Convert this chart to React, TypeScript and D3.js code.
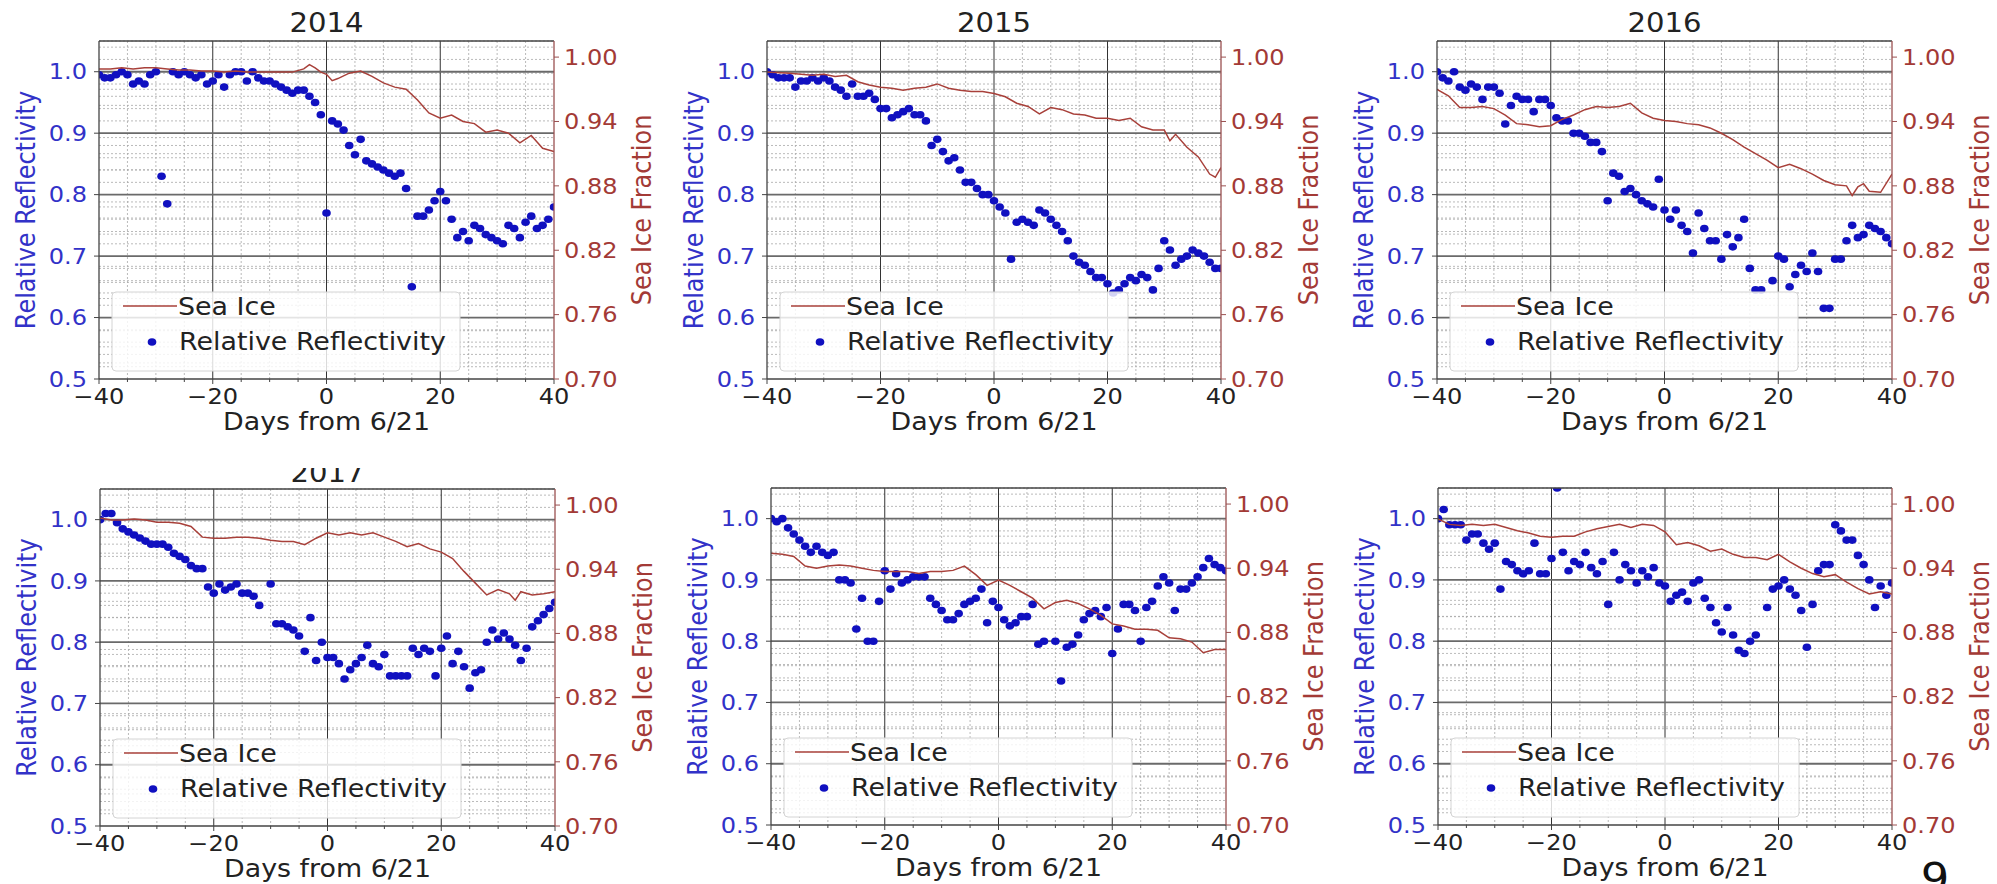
import React from 'react'
import * as d3 from 'd3'

// six years of relative reflectivity (daily, day -40 .. 40) and sea ice fraction
const YEARS = ['2014', '2015', '2016', '2017', '2018', '2019']

const refl2014 = [0.995, 0.99, 0.99, 0.995, 1.0, 0.995, 0.98, 0.985, 0.98, 0.995,
  1.0, 0.83, 0.785, 1.0, 0.995, 1.0, 0.995, 0.99, 0.995, 0.98,
  0.985, 0.995, 0.975, 0.995, 1.0, 1.0, 0.985, 1.0, 0.99, 0.985,
  0.985, 0.98, 0.975, 0.97, 0.965, 0.97, 0.97, 0.96, 0.95, 0.93,
  0.77, 0.92, 0.915, 0.905, 0.88, 0.865, 0.89, 0.855, 0.85, 0.845,
  0.84, 0.835, 0.83, 0.835, 0.81, 0.65, 0.765, 0.765, 0.775, 0.79,
  0.805, 0.79, 0.76, 0.73, 0.74, 0.725, 0.75, 0.745, 0.735, 0.73,
  0.725, 0.72, 0.75, 0.745, 0.73, 0.755, 0.765, 0.745, 0.75, 0.76, 0.78]
const refl2015 = [1.0, 0.995, 0.99, 0.99, 0.99, 0.975, 0.985, 0.985, 0.99, 0.985,
  0.99, 0.985, 0.975, 0.97, 0.96, 0.98, 0.96, 0.96, 0.965, 0.955,
  0.94, 0.94, 0.925, 0.93, 0.935, 0.94, 0.93, 0.93, 0.92, 0.88,
  0.89, 0.87, 0.855, 0.86, 0.84, 0.82, 0.82, 0.81, 0.8, 0.8,
  0.79, 0.78, 0.77, 0.695, 0.755, 0.76, 0.755, 0.75, 0.775, 0.77,
  0.76, 0.75, 0.74, 0.725, 0.7, 0.69, 0.685, 0.675, 0.665, 0.665,
  0.655, 0.64, 0.645, 0.655, 0.665, 0.66, 0.67, 0.665, 0.645, 0.68,
  0.725, 0.71, 0.685, 0.695, 0.7, 0.71, 0.705, 0.7, 0.69, 0.68, 0.68]
const refl2016 = [1.0, 0.99, 0.985, 1.0, 0.975, 0.97, 0.98, 0.975, 0.955, 0.975,
  0.975, 0.965, 0.915, 0.945, 0.96, 0.955, 0.955, 0.935, 0.955, 0.955,
  0.945, 0.925, 0.92, 0.92, 0.9, 0.9, 0.895, 0.885, 0.885, 0.87,
  0.79, 0.835, 0.83, 0.805, 0.81, 0.8, 0.79, 0.785, 0.78, 0.825,
  0.775, 0.76, 0.775, 0.75, 0.74, 0.705, 0.77, 0.745, 0.725, 0.725,
  0.695, 0.735, 0.715, 0.73, 0.76, 0.68, 0.645, 0.645, null, 0.66,
  0.7, 0.695, 0.65, 0.67, 0.685, 0.675, 0.705, 0.675, 0.615, 0.615,
  0.695, 0.695, 0.725, 0.75, 0.73, 0.735, 0.75, 0.745, 0.74, 0.73, 0.72]
const refl2017 = [1.0, 1.01, 1.01, 0.995, 0.985, 0.98, 0.975, 0.97, 0.965, 0.96,
  0.96, 0.96, 0.955, 0.945, 0.94, 0.935, 0.925, 0.92, 0.92, 0.89,
  0.88, 0.895, 0.885, 0.89, 0.895, 0.88, 0.88, 0.875, 0.86, null,
  0.895, 0.83, 0.83, 0.825, 0.82, 0.81, 0.785, 0.84, 0.77, 0.8,
  0.775, 0.775, 0.765, 0.74, 0.755, 0.765, 0.775, 0.795, 0.765, 0.76,
  0.78, 0.745, 0.745, 0.745, 0.745, 0.79, 0.78, 0.79, 0.785, 0.745,
  0.79, 0.81, 0.765, 0.785, 0.76, 0.725, 0.75, 0.755, 0.8, 0.82,
  0.805, 0.815, 0.805, 0.795, 0.77, 0.79, 0.825, 0.835, 0.845, 0.855, 0.865]
const refl2018 = [1.0, 0.995, 1.0, 0.985, 0.975, 0.965, 0.955, 0.945, 0.955, 0.945,
  0.94, 0.945, 0.9, 0.9, 0.895, 0.82, 0.87, 0.8, 0.8, 0.865,
  0.915, 0.885, 0.91, 0.895, 0.9, 0.905, 0.905, 0.905, 0.87, 0.86,
  0.85, 0.835, 0.835, 0.845, 0.86, 0.865, 0.87, 0.885, 0.83, 0.865,
  0.855, 0.835, 0.825, 0.83, 0.84, 0.84, 0.86, 0.795, 0.8, null,
  0.8, 0.735, 0.79, 0.795, 0.81, 0.835, 0.845, 0.85, 0.84, 0.855,
  0.78, 0.82, 0.86, 0.86, 0.85, 0.8, 0.855, 0.865, 0.89, 0.905,
  0.895, 0.85, 0.885, 0.885, 0.895, 0.905, 0.92, 0.935, 0.925, 0.92, 0.915]
const refl2019 = [1.0, 1.015, 0.99, 0.99, 0.99, 0.965, 0.975, 0.975, 0.96, 0.95,
  0.96, 0.885, 0.93, 0.925, 0.915, 0.91, 0.915, 0.96, 0.91, 0.91,
  0.935, 1.05, 0.945, 0.915, 0.93, 0.925, 0.945, 0.92, 0.91, 0.93,
  0.86, 0.945, 0.9, 0.925, 0.915, 0.895, 0.915, 0.905, 0.92, 0.895,
  0.89, 0.865, 0.875, 0.88, 0.865, 0.895, 0.9, 0.87, 0.855, 0.83,
  0.815, 0.855, 0.81, 0.785, 0.78, 0.8, 0.81, null, 0.855, 0.885,
  0.89, 0.9, 0.885, 0.875, 0.85, 0.79, 0.86, 0.915, 0.925, 0.925,
  0.99, 0.98, 0.965, 0.965, 0.94, 0.925, 0.9, 0.855, 0.89, 0.875, 0.895]

const ice2014 = [[-40, 0.989], [-38, 0.989], [-36, 0.99], [-34, 0.989], [-32, 0.99], [-30, 0.99], [-28, 0.989],
  [-26, 0.988], [-24, 0.988], [-22, 0.987], [-20, 0.987], [-18, 0.986], [-16, 0.987], [-14, 0.986], [-12, 0.986],
  [-10, 0.986], [-8, 0.986], [-6, 0.986], [-4, 0.989], [-3, 0.993], [-2, 0.99], [-1, 0.986], [0, 0.984], [1, 0.978],
  [2, 0.98], [4, 0.985], [6, 0.987], [8, 0.982], [10, 0.976], [12, 0.972], [14, 0.97], [16, 0.96], [18, 0.948],
  [20, 0.943], [22, 0.946], [24, 0.94], [26, 0.938], [28, 0.93], [30, 0.932], [32, 0.929], [34, 0.92], [36, 0.927],
  [38, 0.915], [40, 0.912]]
const ice2015 = [[-40, 0.986], [-36, 0.985], [-32, 0.983], [-30, 0.984], [-28, 0.982], [-26, 0.983], [-24, 0.977],
  [-22, 0.974], [-20, 0.972], [-18, 0.971], [-16, 0.969], [-14, 0.971], [-12, 0.972], [-10, 0.975], [-8, 0.971],
  [-6, 0.969], [-4, 0.968], [-2, 0.968], [0, 0.966], [2, 0.963], [4, 0.957], [6, 0.954], [8, 0.947], [10, 0.953],
  [12, 0.951], [14, 0.947], [16, 0.946], [18, 0.943], [20, 0.943], [22, 0.941], [24, 0.943], [26, 0.935], [28, 0.932],
  [30, 0.932], [31, 0.922], [32, 0.928], [34, 0.916], [36, 0.907], [38, 0.891], [39, 0.888], [40, 0.897]]
const ice2016 = [[-40, 0.97], [-38, 0.964], [-36, 0.953], [-34, 0.953], [-32, 0.954], [-30, 0.952], [-28, 0.946],
  [-26, 0.938], [-24, 0.937], [-22, 0.935], [-20, 0.936], [-18, 0.942], [-16, 0.946], [-14, 0.951], [-12, 0.954],
  [-10, 0.953], [-8, 0.954], [-6, 0.957], [-4, 0.948], [-2, 0.943], [0, 0.941], [2, 0.94], [4, 0.938], [6, 0.937],
  [8, 0.934], [10, 0.929], [12, 0.923], [14, 0.916], [16, 0.91], [18, 0.904], [20, 0.897], [22, 0.9], [24, 0.896],
  [26, 0.891], [28, 0.885], [30, 0.881], [32, 0.88], [33, 0.871], [34, 0.879], [35, 0.882], [36, 0.875], [38, 0.874],
  [40, 0.891]]
const ice2017 = [[-40, 0.988], [-38, 0.986], [-36, 0.986], [-34, 0.987], [-32, 0.986], [-30, 0.984], [-28, 0.984],
  [-26, 0.983], [-24, 0.98], [-22, 0.97], [-20, 0.969], [-18, 0.969], [-16, 0.97], [-14, 0.97], [-12, 0.969],
  [-10, 0.967], [-8, 0.966], [-6, 0.966], [-4, 0.963], [-2, 0.969], [0, 0.974], [2, 0.972], [4, 0.974], [6, 0.972],
  [8, 0.974], [10, 0.97], [12, 0.966], [14, 0.961], [16, 0.964], [18, 0.959], [20, 0.956], [22, 0.95], [24, 0.938],
  [26, 0.927], [28, 0.916], [30, 0.921], [32, 0.917], [33, 0.911], [34, 0.919], [36, 0.916], [38, 0.917], [40, 0.919]]
const ice2018 = [[-40, 0.954], [-38, 0.953], [-36, 0.951], [-34, 0.942], [-32, 0.94], [-30, 0.942], [-28, 0.943],
  [-26, 0.942], [-24, 0.94], [-22, 0.938], [-20, 0.937], [-18, 0.937], [-16, 0.937], [-14, 0.935], [-12, 0.937],
  [-10, 0.937], [-8, 0.938], [-6, 0.942], [-4, 0.934], [-2, 0.924], [0, 0.929], [2, 0.924], [4, 0.918], [6, 0.912],
  [8, 0.902], [10, 0.908], [12, 0.91], [14, 0.907], [16, 0.902], [18, 0.896], [20, 0.888], [22, 0.886], [24, 0.883],
  [26, 0.883], [28, 0.882], [30, 0.875], [32, 0.874], [34, 0.871], [36, 0.861], [38, 0.864], [40, 0.864]]
const ice2019 = [[-40, 0.986], [-38, 0.981], [-36, 0.98], [-34, 0.981], [-32, 0.98], [-30, 0.981], [-28, 0.978],
  [-26, 0.975], [-24, 0.973], [-22, 0.97], [-20, 0.969], [-18, 0.97], [-16, 0.97], [-14, 0.974], [-12, 0.977],
  [-10, 0.979], [-8, 0.981], [-6, 0.978], [-4, 0.981], [-2, 0.98], [0, 0.974], [2, 0.962], [4, 0.964], [6, 0.961],
  [8, 0.956], [10, 0.958], [12, 0.953], [14, 0.95], [16, 0.95], [18, 0.948], [20, 0.953], [22, 0.946], [24, 0.94],
  [26, 0.935], [28, 0.932], [30, 0.934], [32, 0.927], [34, 0.921], [36, 0.916], [38, 0.918], [40, 0.916]]

const REFL = [refl2014, refl2015, refl2016, refl2017, refl2018, refl2019]
const ICE = [ice2014, ice2015, ice2016, ice2017, ice2018, ice2019]

const X_TICKS = [-40, -20, 0, 20, 40]
const L_TICKS = [0.5, 0.6, 0.7, 0.8, 0.9, 1.0]
const R_TICKS = [0.70, 0.76, 0.82, 0.88, 0.94, 1.00]

// panel boxes in page pixels
const LAYOUT = [
  { left: 99, right: 554, top: 41, bottom: 379, titleY: 32 },
  { left: 767, right: 1221, top: 41, bottom: 379, titleY: 32 },
  { left: 1437, right: 1892, top: 41, bottom: 379, titleY: 32 },
  { left: 100, right: 555, top: 489, bottom: 826, titleY: 482, cut: true },
  { left: 771, right: 1226, top: 488, bottom: 825, titleY: 482 },
  { left: 1438, right: 1892, top: 488, bottom: 825, titleY: 482 },
]

const SX = 1.12
const FONT = 'DejaVu Sans'
const BLUE = '#1010c0'
const BLUE_TXT = '#3232c8'
const RED = '#a8403a'
const RED_TXT = '#a33a36'

function T({ x, y, children, size = 21.5, fill = '#222', anchor = 'middle', rot = false, dy = 0 }) {
  return (
    <text transform={`translate(${x},${y}) scale(${SX},1)${rot ? ' rotate(-90)' : ''}`}
      textAnchor={anchor} fontSize={size} fill={fill} dy={dy} fontFamily={FONT}>
      {children}
    </text>
  )
}

function Panel({ i }) {
  const p = LAYOUT[i]
  const x = d3.scaleLinear().domain([-40, 40]).range([p.left, p.right])
  const yL = d3.scaleLinear().domain([0.5, 1.05]).range([p.bottom, p.top])
  const yR = d3.scaleLinear().domain([0.7, 1.015]).range([p.bottom, p.top])
  const line = d3.line().x(d => x(d[0])).y(d => yR(d[1]))
  const xMinor = d3.range(-40, 41, 5).filter(d => d % 20 !== 0)
  const lMinor = d3.range(26, 53).filter(k => k % 5 !== 0).map(k => k / 50)
  const rMinor = d3.range(0, 22).filter(k => k % 4 !== 0).map(k => 0.7 + k * 0.015)
  const w = p.right - p.left
  const cx = (p.left + p.right) / 2
  const cy = (p.top + p.bottom) / 2
  const lg = { x: p.left + 13, y: p.bottom - 87, w: 348, h: 79 }
  const dots = REFL[i].map((v, k) => ({ d: k - 40, v })).filter(o => o.v != null)

  return (
    <g>
      <defs>
        <clipPath id={`pc${i}`}><rect x={p.left} y={p.top} width={w} height={p.bottom - p.top} /></clipPath>
        <clipPath id={`tc${i}`}><rect x={p.left} y={p.cut ? 468 : 0} width={w} height={60} /></clipPath>
      </defs>
      {/* minor grid */}
      <g stroke="#a8a8a8" strokeWidth={0.8} strokeDasharray="2,2">
        {xMinor.map(d => <line key={'xm' + d} x1={x(d)} x2={x(d)} y1={p.top} y2={p.bottom} />)}
        {lMinor.map(d => <line key={'lm' + d} x1={p.left} x2={p.right} y1={yL(d)} y2={yL(d)} />)}
        {rMinor.map(d => <line key={'rm' + d} x1={p.left} x2={p.right} y1={yR(d)} y2={yR(d)} />)}
      </g>
      {/* major grid */}
      {X_TICKS.slice(1, 4).map(d => <line key={'xg' + d} x1={x(d)} x2={x(d)} y1={p.top} y2={p.bottom} stroke="#333" strokeWidth={1} />)}
      {L_TICKS.slice(1).map(d => <line key={'lg' + d} x1={p.left} x2={p.right} y1={yL(d)} y2={yL(d)} stroke="#6a6a6a" strokeWidth={1.8} />)}

      {/* data */}
      <g clipPath={`url(#pc${i})`}>
        {dots.map(o => <ellipse key={o.d} cx={x(o.d)} cy={yL(o.v)} rx={4.3} ry={3.8} fill={BLUE} />)}
        <path d={line(ICE[i])} fill="none" stroke={RED} strokeWidth={1.5} />
      </g>

      {/* spines */}
      <line x1={p.left} x2={p.right} y1={p.top} y2={p.top} stroke="#444" strokeWidth={1.3} />
      <line x1={p.left} x2={p.right} y1={p.bottom} y2={p.bottom} stroke="#444" strokeWidth={1.3} />
      <line x1={p.left} x2={p.left} y1={p.top} y2={p.bottom} stroke="#444" strokeWidth={1.3} />
      <line x1={p.right} x2={p.right} y1={p.top} y2={p.bottom} stroke="#9a5050" strokeWidth={1.3} />

      {/* ticks */}
      {X_TICKS.map(d => (
        <g key={'xt' + d}>
          <line x1={x(d)} x2={x(d)} y1={p.bottom} y2={p.bottom + 5} stroke="#444" />
          <T x={x(d)} y={p.bottom + 25}>{d < 0 ? '\u2212' + Math.abs(d) : String(d)}</T>
        </g>
      ))}
      {xMinor.map(d => <line key={'xmt' + d} x1={x(d)} x2={x(d)} y1={p.bottom} y2={p.bottom + 3} stroke="#444" />)}
      {L_TICKS.map(d => (
        <g key={'lt' + d}>
          <line x1={p.left - 5} x2={p.left} y1={yL(d)} y2={yL(d)} stroke="#444" />
          <T x={p.left - 12} y={yL(d)} anchor="end" fill={BLUE_TXT} dy="0.36em">{d.toFixed(1)}</T>
        </g>
      ))}
      {R_TICKS.map(d => (
        <g key={'rt' + d}>
          <line x1={p.right} x2={p.right + 5} y1={yR(d)} y2={yR(d)} stroke="#9a5050" />
          <T x={p.right + 10} y={yR(d)} anchor="start" fill={RED_TXT} dy="0.36em">{d.toFixed(2)}</T>
        </g>
      ))}

      {/* labels */}
      <g clipPath={`url(#tc${i})`}>
        <T x={cx} y={p.titleY} size={26}>{YEARS[i]}</T>
      </g>
      <T x={cx} y={p.bottom + 51} size={24}>Days from 6/21</T>
      <T x={p.left - 73} y={cy} size={24} fill={BLUE_TXT} rot dy="0.35em">Relative Reflectivity</T>
      <T x={p.right + 88} y={cy} size={24} fill={RED_TXT} rot dy="0.35em">Sea Ice Fraction</T>

      {/* legend */}
      <rect x={lg.x} y={lg.y} width={lg.w} height={lg.h} rx={4} fill="#fff" fillOpacity={0.82} stroke="#d4d4d4" />
      <line x1={lg.x + 11} x2={lg.x + 65} y1={lg.y + 14} y2={lg.y + 14} stroke={RED} strokeWidth={1.6} />
      <T x={lg.x + 66} y={lg.y + 23} size={24} anchor="start">Sea Ice</T>
      <ellipse cx={lg.x + 40} cy={lg.y + 50} rx={4.3} ry={3.8} fill={BLUE} />
      <T x={lg.x + 67} y={lg.y + 58} size={24} anchor="start">Relative Reflectivity</T>
    </g>
  )
}

export default function App() {
  return (
    <svg width={1997} height={884} style={{ position: 'absolute', left: 0, top: 0, background: '#fff' }}>
      <rect width={1997} height={884} fill="#fff" />
      {YEARS.map((y, i) => <Panel key={y} i={i} />)}
      <T x={1935} y={892} size={40} fill="#111">9</T>
    </svg>
  )
}
